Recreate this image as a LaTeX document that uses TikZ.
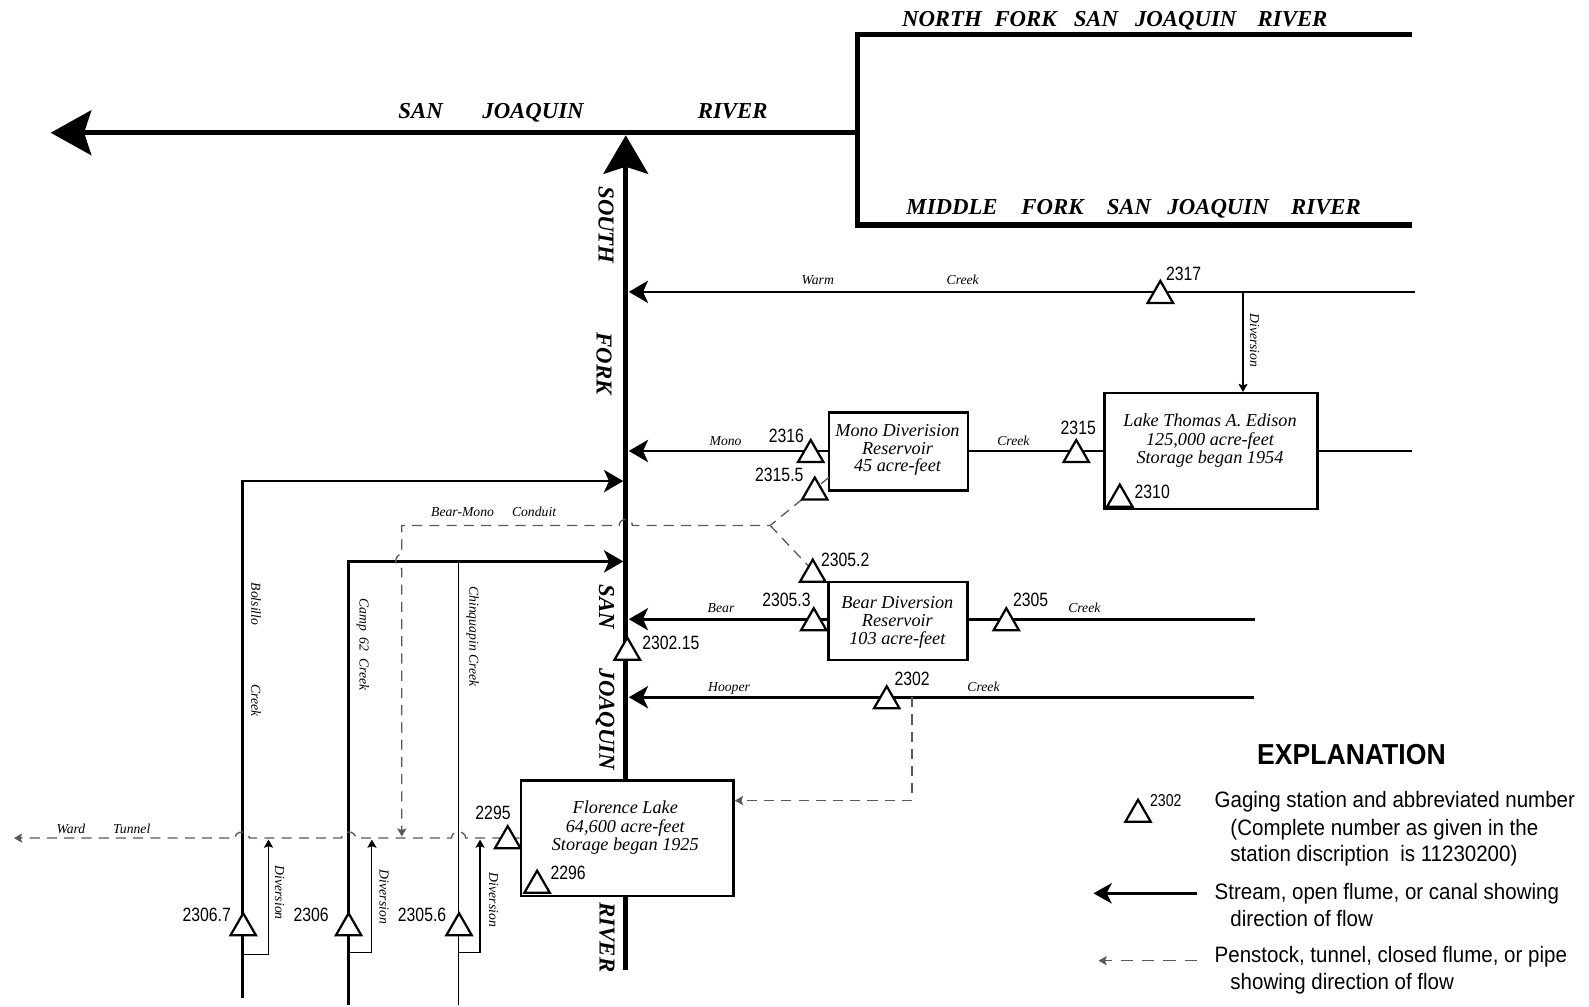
\documentclass[tikz,border=0pt]{standalone}
\usepackage{fontspec}
\setmainfont{Liberation Serif}
\newfontfamily\numfont[FakeStretch=0.82]{Liberation Sans}
\newfontfamily\expfont[FakeStretch=0.92]{Liberation Sans}
\usetikzlibrary{arrows.meta,shapes.geometric}
\begin{document}
\begin{tikzpicture}[x=1pt,y=-1pt,
 river/.style={line width=5pt},
 creek/.style={line width=2.6pt},
 thinline/.style={line width=1.1pt},
 pipe/.style={line width=1.3pt, black!65, dash pattern=on 10pt off 7pt},
 crtip/.style={-{Stealth[length=19pt,width=22pt,inset=5pt]}},
 smtip/.style={-{Stealth[length=8pt,width=9pt,inset=1.5pt]}},
 box/.style={draw, fill=white, line width=2.4pt, inner sep=0pt},
 gage/.style={regular polygon, regular polygon sides=3, draw, fill=white, line width=2.2pt, minimum size=29pt, inner sep=0pt, yshift=-3.7pt},
 rlab/.style={inner sep=0pt, font=\fontsize{22.5}{24}\selectfont\bfseries\itshape},
 vlab/.style={rlab, rotate=-90},
 slab/.style={inner sep=0pt, anchor=base, font=\fontsize{13.5}{14}\selectfont\itshape},
 sv/.style={inner sep=0pt, rotate=-90, font=\fontsize{13.5}{14}\selectfont\itshape},
 blab/.style={inner sep=0pt, anchor=base, font=\fontsize{18}{18}\selectfont\itshape},
 num/.style={inner sep=0pt, anchor=base, font=\numfont\fontsize{19}{20}\selectfont},
 etext/.style={inner sep=0pt, anchor=base west, font=\expfont\fontsize{22}{24}\selectfont},
]
\useasboundingbox (0,0) rectangle (1568,993);

% ---------- main rivers
\coordinate (mouth) at (50,131);
\coordinate (jct) at (846.6,131);
\coordinate (nfE) at (1393,34.5);
\coordinate (nfC) at (846.6,34.5);
\coordinate (mfC) at (846.6,222);
\coordinate (mfE) at (1393,222);
\draw[river, -{Stealth[length=40pt,width=44pt,inset=7pt]}] (jct) -- (mouth);
\draw[river, line join=miter] (nfE) -- (nfC) -- (mfC) -- (mfE);
\coordinate (sfS) at (617.5,957);
\coordinate (sfN) at (617.5,133.5);
\draw[river, -{Stealth[length=38pt,width=44pt,inset=7pt]}] (sfS) -- (sfN);

% ---------- creeks
\coordinate (warmE) at (1396,288);
\coordinate (warmM) at (620.5,288);
\draw[creek, crtip] (warmE) -- (warmM);
\coordinate (bolS) at (239,985);
\coordinate (bolC) at (239,474.7);
\coordinate (bolM) at (615,474.7);
\draw[creek, crtip] (bolS) -- (bolC) -- (bolM);
\coordinate (campS) at (344,991.7);
\coordinate (campC) at (344,554);
\coordinate (campM) at (615,554);
\draw[creek, crtip] (campS) -- (campC) -- (campM);
\coordinate (chinS) at (452.5,991.7);
\coordinate (chinN) at (452.5,554);
\draw[thinline] (chinS) -- (chinN);
\coordinate (hooE) at (1237,688);
\coordinate (hooM) at (620.5,688);
\draw[creek, crtip] (hooE) -- (hooM);

% ---------- reservoirs
\node[box, minimum width=210pt, minimum height=114pt] (lake) at (1195,445) {};
\node[box, minimum width=137pt, minimum height=77pt] (mono) at (886.5,445.5) {};
\node[box, minimum width=137pt, minimum height=77pt] (bear) at (886,613) {};
\node[box, minimum width=210pt, minimum height=114pt] (flor) at (619,827) {};

% Mono creek
\coordinate (monoE) at (1393,445);
\coordinate (monoM) at (620.5,445);
\draw[creek] (monoE) -- (lake.east |- monoE);
\draw[creek] (lake.west |- monoE) -- (mono.east |- monoE);
\draw[creek, crtip] (mono.west |- monoE) -- (monoM);
% Bear creek
\coordinate (bearE) at (1238,611);
\coordinate (bearM) at (620.5,611);
\draw[creek] (bearE) -- (bear.east |- bearE);
\draw[creek, crtip] (bear.west |- bearE) -- (bearM);
% Warm creek diversion
\coordinate (divW) at (1226.6,288);
\draw[thinline, smtip] (divW) -- (divW |- lake.north);

% ---------- dashed conduits
\coordinate (cMono) at (818,471);
\coordinate (cBr) at (760,518.5);
\coordinate (cBear) at (818,580);
\coordinate (cCorner) at (396.5,518.5);
\coordinate (cEnd) at (396.5,825.5);
\draw[pipe, smtip] (cMono) -- (cBr) -- (624,518.5) .. controls (624,510.5) and (611,510.5) .. (611,518.5)
  -- (cCorner) -- (396.5,547) .. controls (388.5,547) and (388.5,561) .. (396.5,561) -- (cEnd);
\draw[pipe] (cBr) -- (cBear);
\coordinate (wardW) at (13.8,827);
\draw[pipe, smtip] (flor.west |- wardW) -- (459.5,827) .. controls (459.5,819) and (445.5,819) .. (445.5,827)
  -- (351,827) .. controls (351,819) and (337,819) .. (337,827)
  -- (246,827) .. controls (246,819) and (232,819) .. (232,827) -- (wardW);
\coordinate (hooD) at (900,688);
\coordinate (hooK) at (900,790);
\draw[pipe, smtip] (hooD) -- (hooK) -- (flor.east |- hooK);

% ---------- diversions to Ward Tunnel
\coordinate (d1a) at (239,942);
\coordinate (d1b) at (265,942);
\coordinate (d1c) at (265,828.5);
\draw[thinline, smtip] (d1a) -- (d1b) -- (d1c);
\coordinate (d2a) at (344,940);
\coordinate (d2b) at (367,940);
\coordinate (d2c) at (367,828.5);
\draw[thinline, smtip] (d2a) -- (d2b) -- (d2c);
\coordinate (d3a) at (452.5,940);
\coordinate (d3b) at (473.7,940);
\coordinate (d3c) at (473.7,828.5);
\draw[thinline, smtip] (d3a) -- (d3b) -- (d3c);

% ---------- gaging stations
\node[gage] (g2317) at (1145,288) {};
\node[gage] (g2316) at (800,445) {};
\node[gage] (g2315) at (1062,445) {};
\node[gage] (g23155) at (804,482) {};
\node[gage] (g2310) at (1105,489) {};
\node[gage] (g23052) at (802,563) {};
\node[gage] (g23053) at (803,611) {};
\node[gage] (g2305) at (993,611) {};
\node[gage] (g230215) at (619,640) {};
\node[gage] (g2302) at (875,688) {};
\node[gage] (g2295) at (501,826) {};
\node[gage] (g2296) at (530,870) {};
\node[gage] (g23067) at (240,912) {};
\node[gage] (g2306) at (344,912) {};
\node[gage] (g23056) at (453,912) {};

\node[num] (n2317) at (1168,277) {2317};
\node[num] (n2316) at (776,437) {2316};
\node[num] (n2315) at (1064,429) {2315};
\node[num] (n23155) at (769,475) {2315.5};
\node[num] (n2310) at (1137,492) {2310};
\node[num] (n23052) at (834,559) {2305.2};
\node[num] (n23053) at (776,598) {2305.3};
\node[num] (n2305) at (1017,598) {2305};
\node[num] (n230215) at (662,641) {2302.15};
\node[num] (n2302) at (900,676) {2302};
\node[num] (n2295) at (486.5,809) {2295};
\node[num] (n2296) at (560.6,868) {2296};
\node[num] (n23067) at (204,909.5) {2306.7};
\node[num] (n2306) at (307,909.5) {2306};
\node[num] (n23056) at (416.5,909.5) {2305.6};

% ---------- reservoir texts
\node[blab] (lk1) at (1194,421) {Lake Thomas A. Edison};
\node[blab] (lk2) at (1194,439.5) {125,000 acre-feet};
\node[blab] (lk3) at (1194,457.5) {Storage began 1954};
\node[blab] (mo1) at (885.6,431) {Mono Diverision};
\node[blab] (mo2) at (885.6,448) {Reservoir};
\node[blab] (mo3) at (885.6,465.5) {45 acre-feet};
\node[blab] (be1) at (885.5,600.3) {Bear Diversion};
\node[blab] (be2) at (885.5,618.4) {Reservoir};
\node[blab] (be3) at (885.5,635.8) {103 acre-feet};
\node[blab] (fl1) at (617,803) {Florence Lake};
\node[blab] (fl2) at (617,821.7) {64,600 acre-feet};
\node[blab] (fl3) at (617,839.4) {Storage began 1925};

% ---------- river names
\node[rlab, anchor=base] (r1) at (415,117) {SAN};
\node[rlab, anchor=base] (r2) at (526,117) {JOAQUIN};
\node[rlab, anchor=base] (r3) at (723,117) {RIVER};
\node[rlab, anchor=base] (nf1) at (929.5,26.3) {NORTH};
\node[rlab, anchor=base] (nf2) at (1012,26.3) {FORK};
\node[rlab, anchor=base] (nf3) at (1081.5,26.3) {SAN};
\node[rlab, anchor=base] (nf4) at (1170,26.3) {JOAQUIN};
\node[rlab, anchor=base] (nf5) at (1275.5,26.3) {RIVER};
\node[rlab, anchor=base] (mf1) at (939.5,211.5) {MIDDLE};
\node[rlab, anchor=base] (mf2) at (1038.5,211.5) {FORK};
\node[rlab, anchor=base] (mf3) at (1114,211.5) {SAN};
\node[rlab, anchor=base] (mf4) at (1202,211.5) {JOAQUIN};
\node[rlab, anchor=base] (mf5) at (1308.5,211.5) {RIVER};
\node[vlab] (s1) at (598,222) {SOUTH};
\node[vlab] (s2) at (596,359) {FORK};
\node[vlab] (s3) at (598.6,599) {SAN};
\node[vlab] (s4) at (597,710) {JOAQUIN};
\node[vlab] (s5) at (599,925) {RIVER};

% ---------- creek names
\node[slab] (w1) at (807,281) {Warm};
\node[slab] (w2) at (950,281) {Creek};
\node[slab] (m1) at (716,440) {Mono};
\node[slab] (m2) at (1000,440) {Creek};
\node[slab] (b1) at (711.5,604.6) {Bear};
\node[slab] (b2) at (1070,604.6) {Creek};
\node[slab] (h1) at (719.4,682.5) {Hooper};
\node[slab] (h2) at (970.5,682.5) {Creek};
\node[slab] (bm1) at (456.5,510) {Bear-Mono};
\node[slab] (bm2) at (527,510) {Conduit};
\node[slab] (wt1) at (70,822) {Ward};
\node[slab] (wt2) at (130,822) {Tunnel};
\node[sv] (bo1) at (252.6,596) {Bolsillo};
\node[sv] (bo2) at (252.6,691.5) {Creek};
\node[sv] (ca1) at (358,636) {Camp\ \ 62\ \ Creek};
\node[sv] (ch1) at (466.4,628) {Chinquapin Creek};
\node[sv] (dv0) at (1238,336) {Diversion};
\node[sv] (dv1) at (276,881) {Diversion};
\node[sv] (dv2) at (379,885) {Diversion};
\node[sv] (dv3) at (487,888) {Diversion};

% ---------- explanation
\node[inner sep=0pt, anchor=base, font=\expfont\fontsize{28.5}{30}\selectfont\bfseries] (ex) at (1333.6,754.2) {EXPLANATION};
\node[gage] (lg) at (1123,800) {};
\node[num, font=\numfont\fontsize{17}{18}\selectfont] (lgn) at (1150.4,795.4) {2302};
\node[etext] (e1) at (1198.4,796.7) {Gaging station and abbreviated number};
\node[etext] (e2) at (1214,824) {(Complete number as given in the};
\node[etext] (e3) at (1214,850) {station discription\ \ is 11230200)};
\coordinate (la1) at (1181,881.5);
\coordinate (la2) at (1079,881.5);
\draw[line width=2.8pt, -{Stealth[length=18pt,width=20pt,inset=5pt]}] (la1) -- (la2);
\node[etext] (e4) at (1198.4,888) {Stream, open flume, or canal showing};
\node[etext] (e5) at (1214,913.8) {direction of flow};
\coordinate (lb1) at (1181,948);
\coordinate (lb2) at (1084,948);
\draw[pipe, dash pattern=on 12pt off 9pt, smtip] (lb1) -- (lb2);
\node[etext] (e6) at (1198.4,950) {Penstock, tunnel, closed flume, or pipe};
\node[etext] (e7) at (1214,976.2) {showing direction of flow};
\end{tikzpicture}
\end{document}
